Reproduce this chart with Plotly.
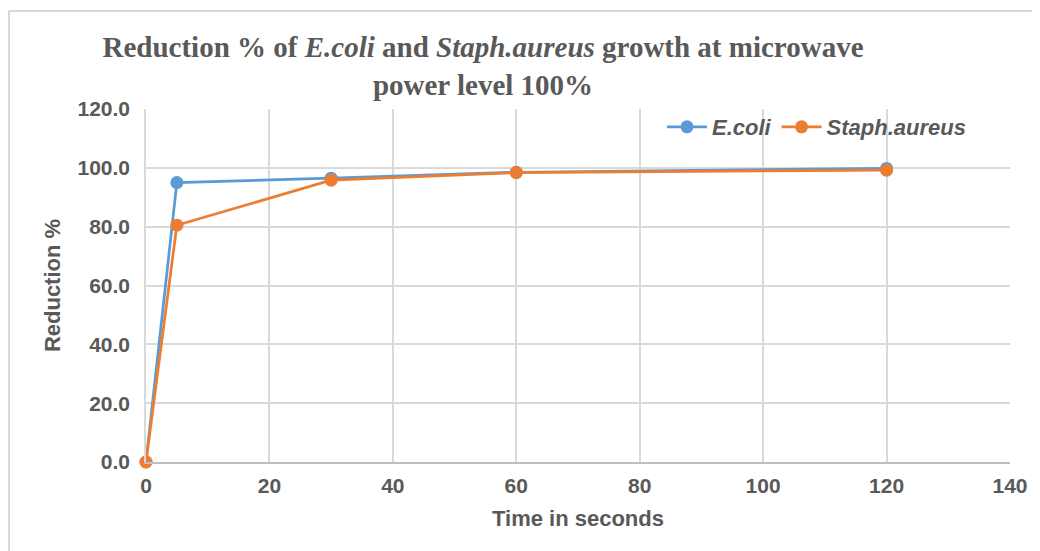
import plotly.graph_objects as go

time_s = [0, 5, 30, 60, 120]
ecoli = [0.0, 95.0, 96.5, 98.5, 99.8]
staph = [0.0, 80.5, 95.8, 98.4, 99.2]

x_ticks = [0, 20, 40, 60, 80, 100, 120, 140]
y_ticks = [0, 20, 40, 60, 80, 100, 120]

gray = "#595959"
fig = go.Figure()
fig.add_trace(go.Scatter(x=time_s, y=ecoli, name="<i>E.coli</i>", mode="lines+markers", cliponaxis=False,
                         line=dict(color="#5B9BD5", width=2.75), marker=dict(size=13, color="#5B9BD5")))
fig.add_trace(go.Scatter(x=time_s, y=staph, name="<i>Staph.aureus</i>", mode="lines+markers", cliponaxis=False,
                         line=dict(color="#ED7D31", width=2.75), marker=dict(size=13, color="#ED7D31")))

# page has an 8px body margin; coordinates below are in figure space
W, H = 1024, 543
L, R, T, B = 138, 22, 101, 89
pw, ph = W - L - R, H - T - B

def px(x):
    return (x - L) / pw

def py(y):
    return (H - B - y) / ph

fig.update_layout(
    width=W, height=H,
    margin=dict(l=L, r=R, t=T, b=B, autoexpand=False),
    paper_bgcolor="white", plot_bgcolor="white",
    title=dict(text="Reduction % of <i>E.coli</i> and <i>Staph.aureus</i> growth at microwave<br>power level 100%",
               x=475 / W, xanchor="center", y=1 - 49 / H, yanchor="middle",
               font=dict(family="Liberation Serif", size=29, color=gray, weight="bold")),
    font=dict(family="Liberation Sans", color=gray),
    xaxis=dict(range=[0, 140], tickvals=x_ticks, ticktext=[str(v) for v in x_ticks],
               showgrid=True, gridcolor="#D9D9D9", gridwidth=1.5, automargin=False,
               showline=True, linecolor="#BFBFBF", linewidth=2, zeroline=False,
               ticks="", ticklabelstandoff=4, tickfont=dict(size=21, color=gray, weight="bold"),
               title=dict(text="Time in seconds", font=dict(size=22, color=gray, weight="bold"), standoff=14)),
    yaxis=dict(range=[0, 120], tickvals=y_ticks, ticktext=[f"{v:.1f}" for v in y_ticks],
               showgrid=True, gridcolor="#D9D9D9", gridwidth=1.5, automargin=False,
               showline=True, linecolor="#D9D9D9", linewidth=1.5, zeroline=False,
               ticks="", ticklabelstandoff=10, tickfont=dict(size=21, color=gray, weight="bold"),
               title=dict(text="Reduction %", font=dict(size=22, color=gray, weight="bold"), standoff=11)),
    legend=dict(orientation="h", x=px(654), xanchor="left", y=py(119), yanchor="middle",
                bgcolor="rgba(0,0,0,0)", font=dict(size=22, color=gray, weight="bold"),
                itemwidth=40),
    showlegend=True,
)
# chart-area border: only left and top edges are visible in the reference
fig.add_shape(type="line", xref="paper", yref="paper",
              x0=px(1), x1=px(W + 20), y0=py(3), y1=py(3),
              line=dict(color="#D9D9D9", width=2), layer="below")
fig.add_shape(type="line", xref="paper", yref="paper",
              x0=px(1), x1=px(1), y0=py(3), y1=py(H + 20),
              line=dict(color="#D9D9D9", width=2), layer="below")
fig.write_html("out.html")
